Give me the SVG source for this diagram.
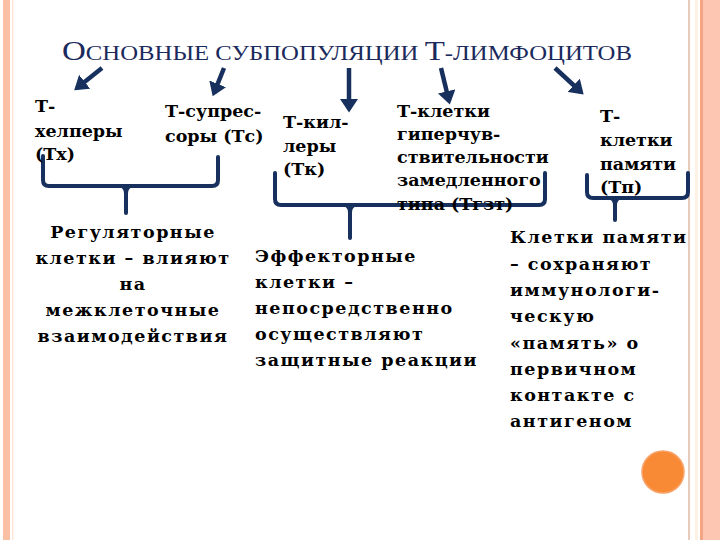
<svg xmlns="http://www.w3.org/2000/svg" width="720" height="540" viewBox="0 0 720 540">
<style>
.t{font-family:"DejaVu Serif",serif;font-weight:bold;fill:#000;}
.s{font-size:17.5px;}
.b{font-size:17.5px;letter-spacing:1.5px;}
.title{font-family:"Liberation Serif","DejaVu Serif",serif;fill:#1b2a5c;}
.br{fill:none;stroke:#17305e;stroke-width:4;stroke-linecap:round;stroke-linejoin:round;}
.ar{stroke:#17305e;stroke-width:4.5;fill:none;marker-end:url(#ah);}
</style>
<defs>
<marker id="ah" markerWidth="4" markerHeight="4" refX="2.2" refY="2" orient="auto" markerUnits="strokeWidth">
<path d="M0,0 L3,2 L0,4 z" fill="#17305e"/>
</marker>
</defs>
<rect width="720" height="540" fill="#fff"/>
<g id="border">
<rect x="3" y="0" width="7" height="540" fill="#fbbfa4"/>
<rect x="12" y="0" width="1.5" height="540" fill="#fde7dc"/>
<rect x="688" y="0" width="2" height="540" fill="#e8cbbb"/>
<rect x="695" y="0" width="3" height="540" fill="#fdf1e4"/>
<rect x="700" y="0" width="3" height="540" fill="#f4a484"/>
<rect x="703" y="0" width="17" height="540" fill="#fdc6b2"/>
</g>
<g id="title">
<text class="title" x="62" y="60" textLength="570" lengthAdjust="spacingAndGlyphs"><tspan font-size="28">О</tspan><tspan font-size="21">СНОВНЫЕ СУБПОПУЛЯЦИИ </tspan><tspan font-size="28">Т</tspan><tspan font-size="21">-ЛИМФОЦИТОВ</tspan></text>
</g>
<g id="connectors">
<line class="ar" x1="102" y1="68" x2="77" y2="88"/>
<line class="ar" x1="224" y1="68" x2="214" y2="93"/>
<line class="ar" x1="349" y1="68" x2="349" y2="109"/>
<line class="ar" x1="441" y1="68" x2="449" y2="101"/>
<line class="ar" x1="555" y1="68" x2="581" y2="92"/>
<path class="br" d="M43,156 L43,180 Q43,186 49,186 L212,186 Q218,186 218,180 L218,157"/>
<path class="br" d="M122,186 Q126,188 126,194 L126,213 M130,186 Q126,188 126,194"/>
<path class="br" d="M275,173 L275,199 Q275,205 281,205 L539,205 Q545,205 545,199 L545,173"/>
<path class="br" d="M346,205 Q350,207 350,213 L350,238 M354,205 Q350,207 350,213"/>
<path class="br" d="M587,175 L587,192 Q587,198 593,198 L682,198 Q688,198 688,192 L688,173"/>
<path class="br" d="M611,198 Q615,200 615,205 L615,220 M619,198 Q615,200 615,205"/>
</g>
<g id="n-helpers">
<text class="t s" x="35" y="112">Т-</text>
<text class="t s" x="35" y="137">хелперы</text>
<text class="t s" x="35" y="160">(Тх)</text>
</g>
<g id="n-suppressors">
<text class="t s" x="165" y="117">Т-супрес-</text>
<text class="t s" x="165" y="142">соры (Тс)</text>
</g>
<g id="n-killers">
<text class="t s" x="283" y="128">Т-кил-</text>
<text class="t s" x="283" y="152">леры</text>
<text class="t s" x="283" y="175">(Тк)</text>
</g>
<g id="n-dth">
<text class="t s" x="397" y="117">Т-клетки</text>
<text class="t s" x="397" y="140">гиперчув-</text>
<text class="t s" x="397" y="163">ствительности</text>
<text class="t s" x="397" y="186">замедленного</text>
<text class="t s" x="397" y="210">типа (Тгзт)</text>
</g>
<g id="n-memory">
<text class="t s" x="600" y="122">Т-</text>
<text class="t s" x="600" y="146">клетки</text>
<text class="t s" x="600" y="170">памяти</text>
<text class="t s" x="600" y="193">(Тп)</text>
</g>
<g id="n-regulatory" text-anchor="middle">
<text class="t b" x="133" y="238">Регуляторные</text>
<text class="t b" x="133" y="264">клетки – влияют</text>
<text class="t b" x="133" y="290">на</text>
<text class="t b" x="133" y="316">межклеточные</text>
<text class="t b" x="133" y="342">взаимодействия</text>
</g>
<g id="n-effector">
<text class="t b" x="255" y="262">Эффекторные</text>
<text class="t b" x="255" y="288">клетки –</text>
<text class="t b" x="255" y="314">непосредственно</text>
<text class="t b" x="255" y="340">осуществляют</text>
<text class="t b" x="255" y="366">защитные реакции</text>
</g>
<g id="n-memory-desc">
<text class="t b" x="510" y="243">Клетки памяти</text>
<text class="t b" x="510" y="270">– сохраняют</text>
<text class="t b" x="510" y="296">иммунологи-</text>
<text class="t b" x="510" y="322">ческую</text>
<text class="t b" x="510" y="349">«память» о</text>
<text class="t b" x="510" y="375">первичном</text>
<text class="t b" x="510" y="401">контакте с</text>
<text class="t b" x="510" y="427">антигеном</text>
</g>
<g id="dot">
<circle cx="663" cy="472" r="21" fill="#f88a35" stroke="#f7a36a" stroke-width="1.5"/>
</g>
</svg>
